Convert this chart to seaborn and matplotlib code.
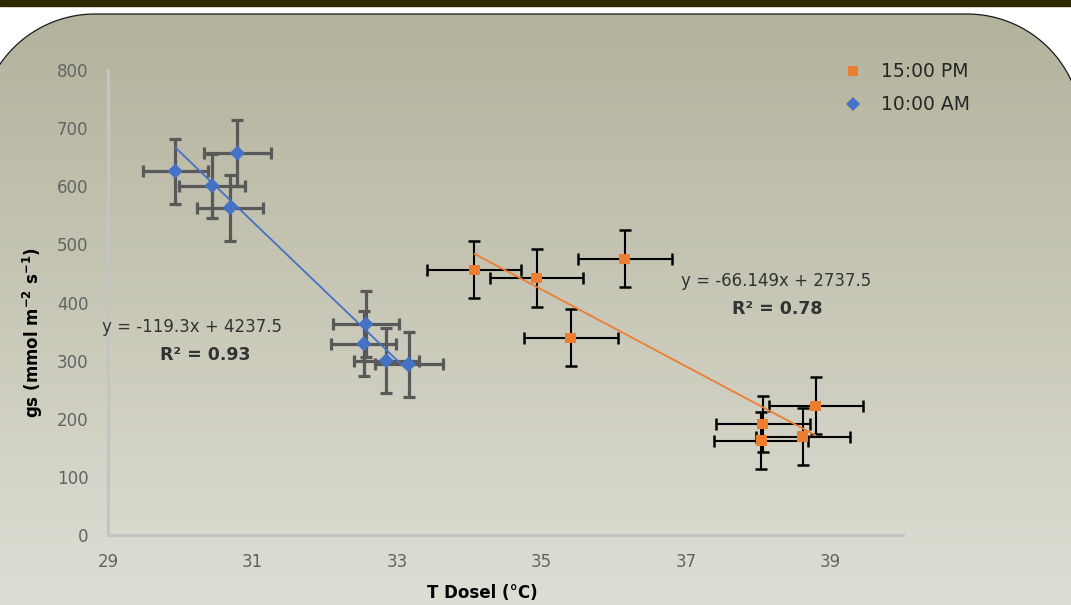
import numpy as np
import pandas as pd
import matplotlib
matplotlib.use('Agg')
import matplotlib.pyplot as plt
import seaborn as sns
from matplotlib.patches import Polygon, Rectangle

sns.set_style('white')
plt.rcParams['font.family'] = ['DejaVu Sans']

# Datos
x_am = [29.93, 30.79, 30.44, 30.69, 32.57, 32.54, 32.85, 33.16]
y_am = [626, 657, 601, 563, 363, 329, 300, 294]
xerr_am = [0.45, 0.46, 0.46, 0.46, 0.46, 0.45, 0.45, 0.47]
yerr_am = [56, 57, 55, 57, 57, 56, 56, 56]

x_pm = [34.07, 34.93, 36.15, 35.40, 38.79, 38.06, 38.04, 38.61]
y_pm = [456, 442, 475, 339, 222, 191, 162, 169]
xerr_pm = [0.65, 0.64, 0.65, 0.65, 0.65, 0.65, 0.65, 0.65]
yerr_pm = [49, 50, 49, 49, 49, 48, 49, 49]

# tendencias lineales (pendiente, intercepto, R2)
coef_am = (-119.3, 4237.5, 0.93)
coef_pm = (-66.149, 2737.5, 0.78)

series = ['15:00 PM', '10:00 AM']
colores = {'15:00 PM': '#ED7D31', '10:00 AM': '#4472C4'}

df = pd.concat([
    pd.DataFrame({'T': x_pm, 'gs': y_pm, 'serie': '15:00 PM'}),
    pd.DataFrame({'T': x_am, 'gs': y_am, 'serie': '10:00 AM'}),
])

W, H = 1071, 605
fig = plt.figure(figsize=(W / 100, H / 100), dpi=100)
fig.patch.set_facecolor('white')

# fondo con degradado y esquinas superiores redondeadas
ax_bg = fig.add_axes([0, 0, 1, 1], zorder=-1)
top = np.array([178, 177, 154]) / 255
bot = np.array([222, 222, 213]) / 255
t = np.linspace(0, 1, H)[:, None, None]
grad = top + (bot - top) * t
im = ax_bg.imshow(grad, extent=[0, W, H, 0], aspect='auto')
ax_bg.set_autoscale_on(False)
ax_bg.set_xlim(0, W)
ax_bg.set_ylim(H, 0)
ax_bg.axis('off')

r = 115
a1 = np.linspace(np.pi, 1.5 * np.pi, 40)
a2 = np.linspace(1.5 * np.pi, 2 * np.pi, 40)
izq = np.column_stack([95 + r * np.cos(a1), 14 + r + r * np.sin(a1)])
der = np.column_stack([967 + r * np.cos(a2), 14 + r + r * np.sin(a2)])
verts = np.vstack([[[-20, 700]], izq, der, [[1082, 700]]])
forma = Polygon(verts, closed=True, facecolor='none', edgecolor='#1a1a1a', lw=0.9,
                transform=ax_bg.transData)
ax_bg.add_patch(forma)
im.set_clip_path(forma)
ax_bg.add_patch(Rectangle((0, 0), W, 6, color='#2d2900'))

# grafico principal
ax = fig.add_axes([108 / W, (H - 535) / H, (903 - 108) / W, (535 - 70) / H])
ax.set_facecolor('none')

ax.errorbar(x_am, y_am, xerr=xerr_am, yerr=yerr_am, fmt='none', ecolor='#595959',
            elinewidth=2.3, capsize=4.5, capthick=2.3, zorder=2)
ax.errorbar(x_pm, y_pm, xerr=xerr_pm, yerr=yerr_pm, fmt='none', ecolor='black',
            elinewidth=1.5, capsize=4.5, capthick=1.8, zorder=2)

for xs, (m, b, r2), serie in [(x_am, coef_am, '10:00 AM'), (x_pm, coef_pm, '15:00 PM')]:
    xl = np.array([min(xs), max(xs)])
    sns.lineplot(x=xl, y=m * xl + b, ax=ax, color=colores[serie], lw=1.3, zorder=3)

sns.scatterplot(data=df, x='T', y='gs', hue='serie', style='serie', hue_order=series,
                style_order=series, palette=colores, markers={'15:00 PM': 's', '10:00 AM': 'D'},
                s=60, edgecolor='none', linewidth=0, ax=ax, zorder=4)

ax.set_xlim(29, 40)
ax.set_ylim(0, 800)
ax.set_xticks([29, 31, 33, 35, 37, 39])
ax.set_yticks(range(0, 801, 100))
ax.tick_params(length=0, labelsize=12, labelcolor='#636363')
ax.tick_params(axis='y', pad=14)
ax.tick_params(axis='x', pad=13)
for lado in ['top', 'right']:
    ax.spines[lado].set_visible(False)
for lado in ['left', 'bottom']:
    ax.spines[lado].set_color('#c4c4c4')
    ax.spines[lado].set_linewidth(2.2)
ax.set_xlabel('')
ax.set_ylabel('')

fig.text(482 / W, 1 - 593 / H, 'T Dosel (°C)', ha='center', va='center',
         fontsize=12, fontweight='bold', color='black')
fig.text(33 / W, 1 - 333 / H, r'gs (mmol m$^{\mathbf{-2}}$ s$^{\mathbf{-1}}$)', ha='center',
         va='center', rotation=90, fontsize=12, fontweight='bold', color='black')

# ecuaciones
ax.text(30.16, 358, 'y = -119.3x + 4237.5', ha='center', va='center', fontsize=12, color='#333333')
ax.text(30.34, 310, 'R² = 0.93', ha='center', va='center', fontsize=12.5, fontweight='bold', color='#333333')
ax.text(38.24, 437, 'y = -66.149x + 2737.5', ha='center', va='center', fontsize=12, color='#333333')
ax.text(38.26, 389, 'R² = 0.78', ha='center', va='center', fontsize=12.5, fontweight='bold', color='#333333')

sns.move_legend(ax, 'upper left', bbox_to_anchor=(832 / W, 1 - 53 / H), bbox_transform=fig.transFigure,
                frameon=False, title=None, fontsize=13.5, labelspacing=0.75, handlelength=1.2,
                handletextpad=0.9, borderpad=0, markerscale=0.9)
for txt in ax.get_legend().get_texts():
    txt.set_color('#262626')

fig.savefig('out.png', dpi=100)
